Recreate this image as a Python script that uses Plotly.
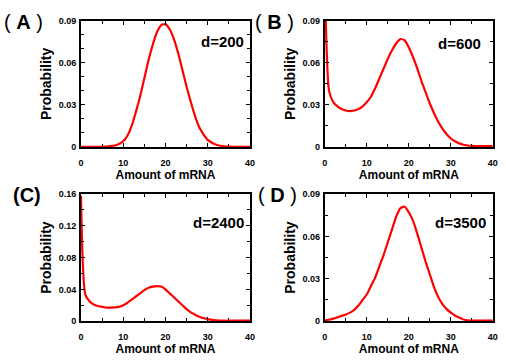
import plotly.graph_objects as go
from plotly.subplots import make_subplots

mrna = list(range(0, 41))

# d=200
probA = [0, 0, 0, 0, 0, 0.0001, 0.0002, 0.0005, 0.001, 0.002, 0.004, 0.008, 0.015,
         0.025, 0.036, 0.049, 0.062, 0.073, 0.082, 0.087, 0.0875, 0.084, 0.077, 0.067,
         0.055, 0.043, 0.032, 0.022, 0.014, 0.009, 0.005, 0.003, 0.0015, 0.0008, 0.0004,
         0.0002, 0.0001, 0, 0, 0, 0]
# d=600
probB = [0.12, 0.040, 0.032, 0.029, 0.027, 0.026, 0.0255, 0.026, 0.027, 0.029, 0.032,
         0.036, 0.042, 0.049, 0.056, 0.063, 0.069, 0.074, 0.077, 0.076, 0.071, 0.064,
         0.056, 0.047, 0.039, 0.031, 0.024, 0.018, 0.013, 0.009, 0.006, 0.004, 0.0025,
         0.0015, 0.001, 0.0007, 0.0005, 0.0005, 0.0005, 0.0005, 0.0005]
# d=2400
probC = [0.158, 0.034, 0.025, 0.021, 0.019, 0.018, 0.017, 0.017, 0.0172, 0.018, 0.020,
         0.023, 0.027, 0.031, 0.035, 0.039, 0.042, 0.0435, 0.044, 0.0435, 0.040, 0.035,
         0.030, 0.025, 0.020, 0.015, 0.011, 0.008, 0.0055, 0.0037, 0.0025, 0.0015, 0.001,
         0.0007, 0.0005, 0.0005, 0.0005, 0.0005, 0.0005, 0.0005, 0.0005]
# d=3500
probD = [0.0005, 0.001, 0.0018, 0.0027, 0.0037, 0.0047, 0.006, 0.008, 0.011, 0.015, 0.019,
         0.025, 0.031, 0.039, 0.047, 0.056, 0.065, 0.074, 0.080, 0.081, 0.077, 0.071,
         0.062, 0.052, 0.042, 0.033, 0.024, 0.017, 0.012, 0.0085, 0.006, 0.004, 0.0025,
         0.0012, 0.0006, 0.0003, 0.0003, 0.0003, 0.0003, 0.0003, 0.0003]

panels = ["( <b>A</b> )", "( <b>B</b> )", "<b>(C)</b>", "( <b>D</b> )"]
dlabels = ["d=200", "d=600", "d=2400", "d=3500"]
series = [probA, probB, probC, probD]

xticks = [0, 10, 20, 30, 40]
yticks_09 = [0, 0.03, 0.06, 0.09]
ytext_09 = ["0", "0.03", "0.06", "0.09"]
yticks_16 = [0, 0.04, 0.08, 0.12, 0.16]
ytext_16 = ["0", "0.04", "0.08", "0.12", "0.16"]

yranges = [[0, 0.09], [0, 0.09], [0, 0.16], [0, 0.09]]
yminor = [0.01, 0.015, 0.02, 0.015]

FONT = "Liberation Sans, Arial"

fig = make_subplots(rows=2, cols=2)

xdom = [[0.160, 0.494], [0.642, 0.974]]
ydom = [[0.592, 0.942], [0.108, 0.461]]

for i, ys in enumerate(series):
    r, c = i // 2 + 1, i % 2 + 1
    fig.add_trace(go.Scatter(x=mrna, y=ys, mode="lines",
                             line=dict(color="#ff0000", width=2.2, shape="spline", smoothing=0.6),
                             showlegend=False, hoverinfo="skip"), row=r, col=c)
    fig.update_xaxes(domain=xdom[c - 1], range=[0, 40], tickvals=xticks, automargin=False,
                     showline=True, linecolor="black", linewidth=2, mirror="ticks",
                     ticks="inside", ticklen=4, tickcolor="black", tickwidth=1,
                     minor=dict(dtick=5, ticks="inside", ticklen=3, tickcolor="black"),
                     showgrid=False, zeroline=False,
                     tickfont=dict(family=FONT, size=9, color="black", weight="bold"),
                     ticklabelstandoff=6,
                     title=dict(text="<b>Amount of mRNA</b>", standoff=0,
                                font=dict(family=FONT, size=12, color="black")),
                     row=r, col=c)
    if i == 2:
        tv, tt = yticks_16, ytext_16
    else:
        tv, tt = yticks_09, ytext_09
    fig.update_yaxes(domain=ydom[r - 1], range=yranges[i], tickvals=tv, ticktext=tt,
                     automargin=False,
                     showline=True, linecolor="black", linewidth=2, mirror="ticks",
                     ticks="inside", ticklen=4, tickcolor="black", tickwidth=1,
                     minor=dict(dtick=yminor[i], ticks="inside", ticklen=3, tickcolor="black"),
                     showgrid=False, zeroline=False,
                     tickfont=dict(family=FONT, size=9, color="black", weight="bold"),
                     ticklabelstandoff=1,
                     title=dict(text="<b>Probability</b>", standoff=4,
                                font=dict(family=FONT, size=14, color="black")),
                     row=r, col=c)

# panel letters (left edge) and d-values (right edge), in pixels
panel_pos = [(2, 22), (253, 22), (11, 195), (256, 195)]
dpos = [(246, 41), (483, 43), (246, 222), (488, 222)]
for i in range(4):
    fig.add_annotation(x=panel_pos[i][0] / 506, y=1 - panel_pos[i][1] / 360,
                       xref="paper", yref="paper", showarrow=False,
                       xanchor="left", yanchor="middle",
                       text=panels[i],
                       font=dict(family=FONT, size=20, color="black"))
    fig.add_annotation(x=dpos[i][0] / 506, y=1 - dpos[i][1] / 360,
                       xref="paper", yref="paper", showarrow=False,
                       xanchor="right", yanchor="middle",
                       text="<b>" + dlabels[i] + "</b>",
                       font=dict(family=FONT, size=15, color="black"))

fig.update_layout(width=506, height=360, margin=dict(l=0, r=0, t=0, b=0, autoexpand=False),
                  plot_bgcolor="white", paper_bgcolor="white", hovermode=False)

fig.write_html("out.html", config={"displayModeBar": False},
               post_script="document.body.style.margin='0';")
